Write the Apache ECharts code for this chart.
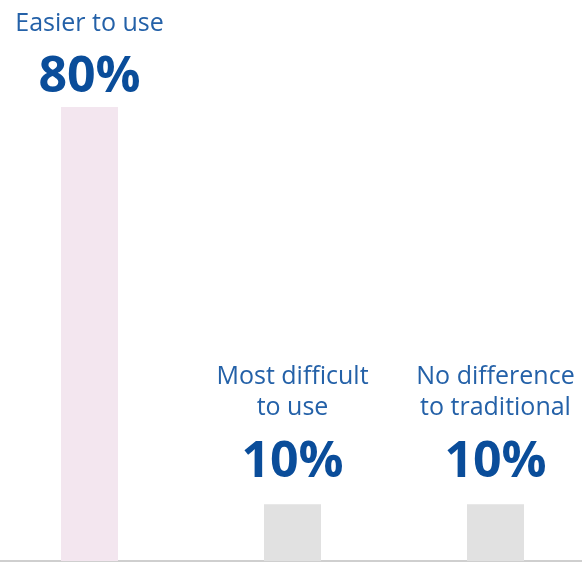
<!DOCTYPE html>
<html>
<head>
<meta charset="utf-8">
<script src="https://cdn.jsdelivr.net/npm/echarts@6/dist/echarts.min.js"></script>
<style>
  html, body { margin: 0; padding: 0; background: #fff; }
  #chart { width: 582px; height: 563px; }
</style>
</head>
<body>
<div id="chart"></div>
<script>
  // 数据
  var categories = ['Easier to use', 'Most difficult\nto use', 'No difference\nto traditional'];
  var values = [80, 10, 10];
  var barColors = ['#f3e6ef', '#e1e1e1', '#e1e1e1'];

  var chart = echarts.init(document.getElementById('chart'));

  var seriesData = values.map(function (v, i) {
    return {
      value: v,
      itemStyle: { color: barColors[i] },
      label: { distance: i === 0 ? -10 : 3 }
    };
  });

  var option = {
    animation: false,
    grid: { left: -12, width: 609, top: 107, bottom: 2, outerBoundsMode: 'none', containLabel: false },
    xAxis: {
      type: 'category',
      data: categories,
      axisLine: { lineStyle: { color: '#bfbfbf', width: 1.5 } },
      axisTick: { show: false },
      axisLabel: { show: false }
    },
    yAxis: {
      type: 'value',
      min: 0,
      max: 80,
      show: false,
      splitLine: { show: false }
    },
    series: [{
      type: 'bar',
      barWidth: 57,
      data: seriesData,
      label: {
        show: true,
        position: 'top',
        formatter: function (p) {
          var lines = categories[p.dataIndex].split('\n').map(function (s) {
            return '{cat|' + s + '}';
          });
          return lines.join('\n') + '\n{pct|' + p.value + '%}';
        },
        rich: {
          cat: {
            fontFamily: 'Open Sans',
            fontSize: 25,
            lineHeight: 31,
            color: '#2461a8',
            align: 'center'
          },
          pct: {
            fontFamily: 'Open Sans',
            fontWeight: 'bold',
            fontSize: 50,
            lineHeight: 78,
            color: '#0a4d9a',
            align: 'center'
          }
        }
      }
    }]
  };
  chart.setOption(option);
</script>
</body>
</html>
